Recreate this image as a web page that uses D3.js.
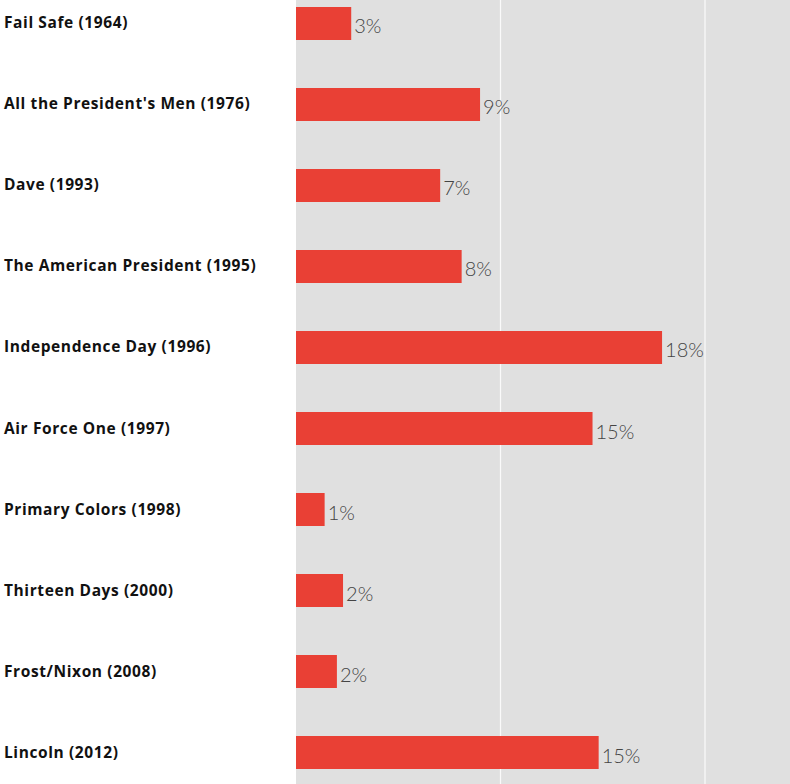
<!DOCTYPE html>
<html>
<head>
<meta charset="utf-8">
<script src="https://cdn.jsdelivr.net/npm/d3@7"></script>
<style>
  body { margin: 0; background: #fff; }
</style>
</head>
<body>
<div id="chart"></div>
<script>
    const films = [
        "Fail Safe (1964)",
        "All the President's Men (1976)",
        "Dave (1993)",
        "The American President (1995)",
        "Independence Day (1996)",
        "Air Force One (1997)",
        "Primary Colors (1998)",
        "Thirteen Days (2000)",
        "Frost/Nixon (2008)",
        "Lincoln (2012)"
    ];
    const shares = [2.7, 9.0, 7.05, 8.1, 17.9, 14.5, 1.4, 2.3, 2.0, 14.8];
    const gridTicks = [10, 20];

    const width = 790;
    const height = 784;
    const plotLeft = 296;

    const svg = d3.select("#chart")
        .append("svg")
        .attr("width", width)
        .attr("height", height);

    const x = d3.scaleLinear().domain([0, 10]).range([plotLeft, plotLeft + 204.5]);
    const y = d3.scaleBand().domain(films).range([7, 769]).paddingInner(0.5926).paddingOuter(0);

    // grey panel
    svg.append("rect")
        .attr("x", plotLeft)
        .attr("y", 0)
        .attr("width", width - plotLeft)
        .attr("height", height)
        .attr("fill", "#e0e0e0");

    // grid lines
    svg.selectAll(".grid")
        .data(gridTicks)
        .enter().append("line")
        .attr("x1", d => x(d))
        .attr("x2", d => x(d))
        .attr("y1", 0)
        .attr("y2", height)
        .attr("stroke", "#fafafa")
        .attr("stroke-width", 1.2);

    const data = films.map((f, i) => ({ film: f, value: shares[i] }));

    svg.selectAll(".bar")
        .data(data)
        .enter().append("rect")
        .attr("x", x(0))
        .attr("y", d => y(d.film))
        .attr("width", d => x(d.value) - x(0))
        .attr("height", y.bandwidth())
        .attr("fill", "#e94035");

    svg.selectAll(".value")
        .data(data)
        .enter().append("text")
        .attr("x", d => x(d.value) + 3)
        .attr("y", d => y(d.film) + y.bandwidth() / 2 + 10)
        .style("font-family", "Lato, 'Open Sans', sans-serif")
        .style("font-weight", 300)
        .style("font-size", "20px")
        .style("fill", "#444")
        .text(d => `${Math.round(d.value)}%`);

    svg.selectAll(".label")
        .data(data)
        .enter().append("text")
        .attr("x", 4)
        .attr("y", d => y(d.film) + y.bandwidth() / 2 + 5)
        .style("font-family", "'Open Sans', sans-serif")
        .style("font-weight", 700)
        .style("font-size", "15.5px")
        .style("letter-spacing", "0.6px")
        .style("fill", "#111")
        .text(d => d.film);
</script>
</body>
</html>
